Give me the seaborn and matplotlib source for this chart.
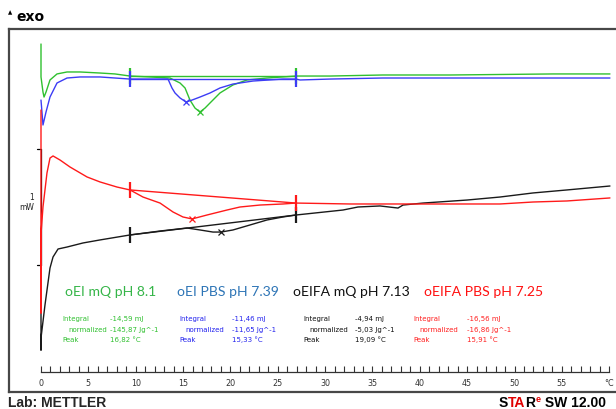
import matplotlib
matplotlib.use('Agg')
import matplotlib.pyplot as plt
import seaborn as sns

# DSC curves: temperature (degC) vs heat flow (mW, offset as displayed)
green_T = [0, 0, 0.21, 0.32, 0.53, 0.95, 1.69, 2.75, 4.12, 6.23, 7.81, 9.40, 11.51, 13.62, 14.68, 15.21,
           15.73, 16.26, 16.79, 17.32, 17.85, 18.90, 20.27, 21.75, 23.86, 26.93, 30.52, 36.11, 43.19, 54.07, 60.08]
green_mW = [1.905, 1.621, 1.491, 1.448, 1.491, 1.595, 1.647, 1.664, 1.664, 1.655, 1.647, 1.629, 1.621, 1.612, 1.569, 1.526,
            1.422, 1.353, 1.319, 1.353, 1.397, 1.483, 1.552, 1.595, 1.612, 1.629, 1.629, 1.638, 1.638, 1.647, 1.647]

blue_T = [0, 0.21, 0.53, 0.95, 1.69, 2.75, 4.12, 6.23, 9.40, 11.19, 13.41, 13.83, 14.15, 14.68, 15.31, 15.95,
          16.79, 17.85, 18.90, 20.27, 22.39, 25.55, 26.93, 27.35, 30.52, 36.11, 60.08]
blue_mW = [1.422, 1.207, 1.319, 1.448, 1.569, 1.612, 1.621, 1.621, 1.603, 1.603, 1.603, 1.526, 1.483, 1.440, 1.405, 1.422,
           1.448, 1.483, 1.526, 1.560, 1.586, 1.603, 1.603, 1.595, 1.603, 1.612, 1.612]

black_T = [0, 0, 0, 0.42, 0.95, 1.27, 1.80, 2.75, 4.44, 6.23, 9.40, 12.57, 15.42, 16.79, 18.16, 19.01, 20.27, 22.07,
           23.86, 25.55, 26.93, 31.89, 33.47, 35.80, 37.70, 38.23, 40.34, 44.98, 48.47, 51.95, 55.54, 60.08]
black_mW = [-0.414, -0.733, -0.629, -0.345, -0.026, 0.069, 0.138, 0.155, 0.190, 0.216, 0.259, 0.293, 0.319, 0.302, 0.284,
            0.284, 0.302, 0.345, 0.388, 0.414, 0.431, 0.474, 0.500, 0.509, 0.491, 0.517, 0.534, 0.560, 0.586, 0.621, 0.647, 0.681]

red_T = [0, 0, 0, 0.21, 0.63, 0.95, 1.27, 2.01, 3.06, 4.86, 6.23, 8.03, 9.40, 10.77, 12.57, 13.94, 14.99, 15.95,
         17.53, 19.64, 21.01, 23.13, 25.55, 26.93, 32.63, 37.91, 43.19, 48.47, 51.95, 55.54, 60.08]
red_mW = [1.336, -0.414, 0.267, 0.500, 0.793, 0.922, 0.940, 0.905, 0.845, 0.759, 0.716, 0.672, 0.647, 0.586, 0.534,
          0.457, 0.414, 0.397, 0.431, 0.474, 0.500, 0.517, 0.526, 0.534, 0.526, 0.526, 0.526, 0.526, 0.543, 0.552, 0.578]

# integration limits and baselines
limits_T = [9.40, 26.93]
green_base = [1.629, 1.629]
blue_base = [1.603, 1.603]
black_base = [0.259, 0.431]
red_base = [0.647, 0.534]

# peak points
peak_T = [16.79, 15.31, 19.01, 15.95]
peak_mW = [1.319, 1.405, 0.284, 0.397]

names = ['oEI mQ pH 8.1', 'oEI PBS pH 7.39', 'oEIFA mQ pH 7.13', 'oEIFA PBS pH 7.25']
integral = ['-14,59 mJ', '-11,46 mJ', '-4,94 mJ', '-16,56 mJ']
normalized = ['-145,87 Jg^-1', '-11,65 Jg^-1', '-5,03 Jg^-1', '-16,86 Jg^-1']
peak = ['16,82 °C', '15,33 °C', '19,09 °C', '15,91 °C']

line_colors = ['#2fc02f', '#3c3cf5', '#1a1a1a', '#ff1a1a']
title_colors = ['#35b548', '#2e75b6', '#111111', '#ff1010']
info_colors = ['#30c030', '#2222ee', '#111111', '#ff2020']

W, H = 616, 409
def fx(px):
    return px / W
def fy(py):
    return 1 - py / H

sns.set_style('white')
fig = plt.figure(figsize=(W / 100, H / 100), dpi=100)
ax = fig.add_axes([fx(9), fy(392), fx(616) - fx(9), fy(29) - fy(392)])
ax.set_xlim(-32 / 9.47, (616 - 41) / 9.47)
ax.set_ylim((265 - 392) / 116, (265 - 29) / 116)
ax.set_xticks([])
ax.set_yticks([])
for s in ['left', 'top', 'bottom']:
    ax.spines[s].set_color('#474747')
    ax.spines[s].set_linewidth(1.6)
ax.spines['right'].set_visible(False)

# scale bar (1 mW)
ax.plot([0, 0], [0, 1], color='black', lw=0.9, zorder=1)
ax.plot([-0.42, 0], [0, 0], color='black', lw=0.9)
ax.plot([-0.42, 0], [1, 1], color='black', lw=0.9)
fig.text(fx(34), fy(197), '1', ha='right', va='center', fontsize=5.5, color='#222222')
fig.text(fx(34), fy(208), 'mW', ha='right', va='center', fontsize=5.5, color='#222222')

curves = [(green_T, green_mW, green_base), (blue_T, blue_mW, blue_base),
          (black_T, black_mW, black_base), (red_T, red_mW, red_base)]
for i, (T, mW, base) in enumerate(curves):
    c = line_colors[i]
    sns.lineplot(x=T, y=mW, sort=False, estimator=None, color=c, lw=1.0, ax=ax, zorder=2)
    ax.plot(limits_T, base, color=c, lw=1.0, zorder=2)
    ax.plot(limits_T, base, ls='none', marker='|', ms=11, mew=1.6, color=c, zorder=3)
    ax.plot(peak_T[i], peak_mW[i], ls='none', marker='x', ms=4, mew=0.9, color=c, zorder=3)
ax.set_xlabel('')
ax.set_ylabel('')

# temperature axis inside the frame
sec = ax.secondary_xaxis((392 - 372) / 363)
sec.set_xticks(list(range(0, 61, 5)))
sec.set_xticklabels([str(v) for v in range(0, 56, 5)] + ['°C'])
sec.set_xticks(list(range(0, 61)), minor=True)
sec.tick_params(which='both', direction='in', length=4, width=0.8, color='#333333',
                labelsize=5.8, labelcolor='#333333', pad=5)
sec.spines['bottom'].set_bounds(0, 60)
sec.spines['bottom'].set_linewidth(0.9)
sec.spines['bottom'].set_color('#333333')

# labels and results
title_x = [65, 177, 293, 424]
label_x = [62, 179, 303, 413]
value_x = [110, 232, 355, 467]
for i in range(4):
    fig.text(fx(title_x[i]), fy(292), names[i], ha='left', va='center', fontsize=10.1,
             family='Lato', color=title_colors[i])
    c = info_colors[i]
    fig.text(fx(label_x[i]), fy(319), 'Integral', fontsize=5.0, color=c, va='center')
    fig.text(fx(label_x[i] + 6), fy(330), 'normalized', fontsize=5.0, color=c, va='center')
    fig.text(fx(label_x[i]), fy(340), 'Peak', fontsize=5.0, color=c, va='center')
    fig.text(fx(value_x[i]), fy(319), integral[i], fontsize=5.0, color=c, va='center')
    fig.text(fx(value_x[i]), fy(330), normalized[i], fontsize=5.0, color=c, va='center')
    fig.text(fx(value_x[i]), fy(340), peak[i], fontsize=5.0, color=c, va='center')

# header / footer
fig.text(fx(8), fy(13), '▲', fontsize=4, color='black', va='center')
fig.text(fx(16), fy(17), 'exo', fontsize=10, color='black', va='center', fontweight='bold')
fig.text(fx(8), fy(403), 'Lab: METTLER', fontsize=10, fontweight='bold', family='Liberation Sans', va='center')

font = dict(fontweight='bold', family='Liberation Sans', annotation_clip=False, ha='left', va='bottom')
t_s = fig.text(fx(499), fy(403), 'S', color='black', fontsize=10, fontweight='bold',
               family='Liberation Sans', va='center')
t_ta = ax.annotate('TA', xy=(1, 0), xycoords=t_s, color='#e00000', fontsize=10, **font)
t_r = ax.annotate('R', xy=(1, 0), xycoords=t_ta, color='black', fontsize=10, **font)
t_e = ax.annotate('e', xy=(1, 0.45), xycoords=t_r, color='#e00000', fontsize=6.5, **font)
ax.annotate(' SW 12.00', xy=(1, 0), xycoords=(t_e, t_r), color='black', fontsize=10, **font)

fig.savefig('out.png', dpi=100)
